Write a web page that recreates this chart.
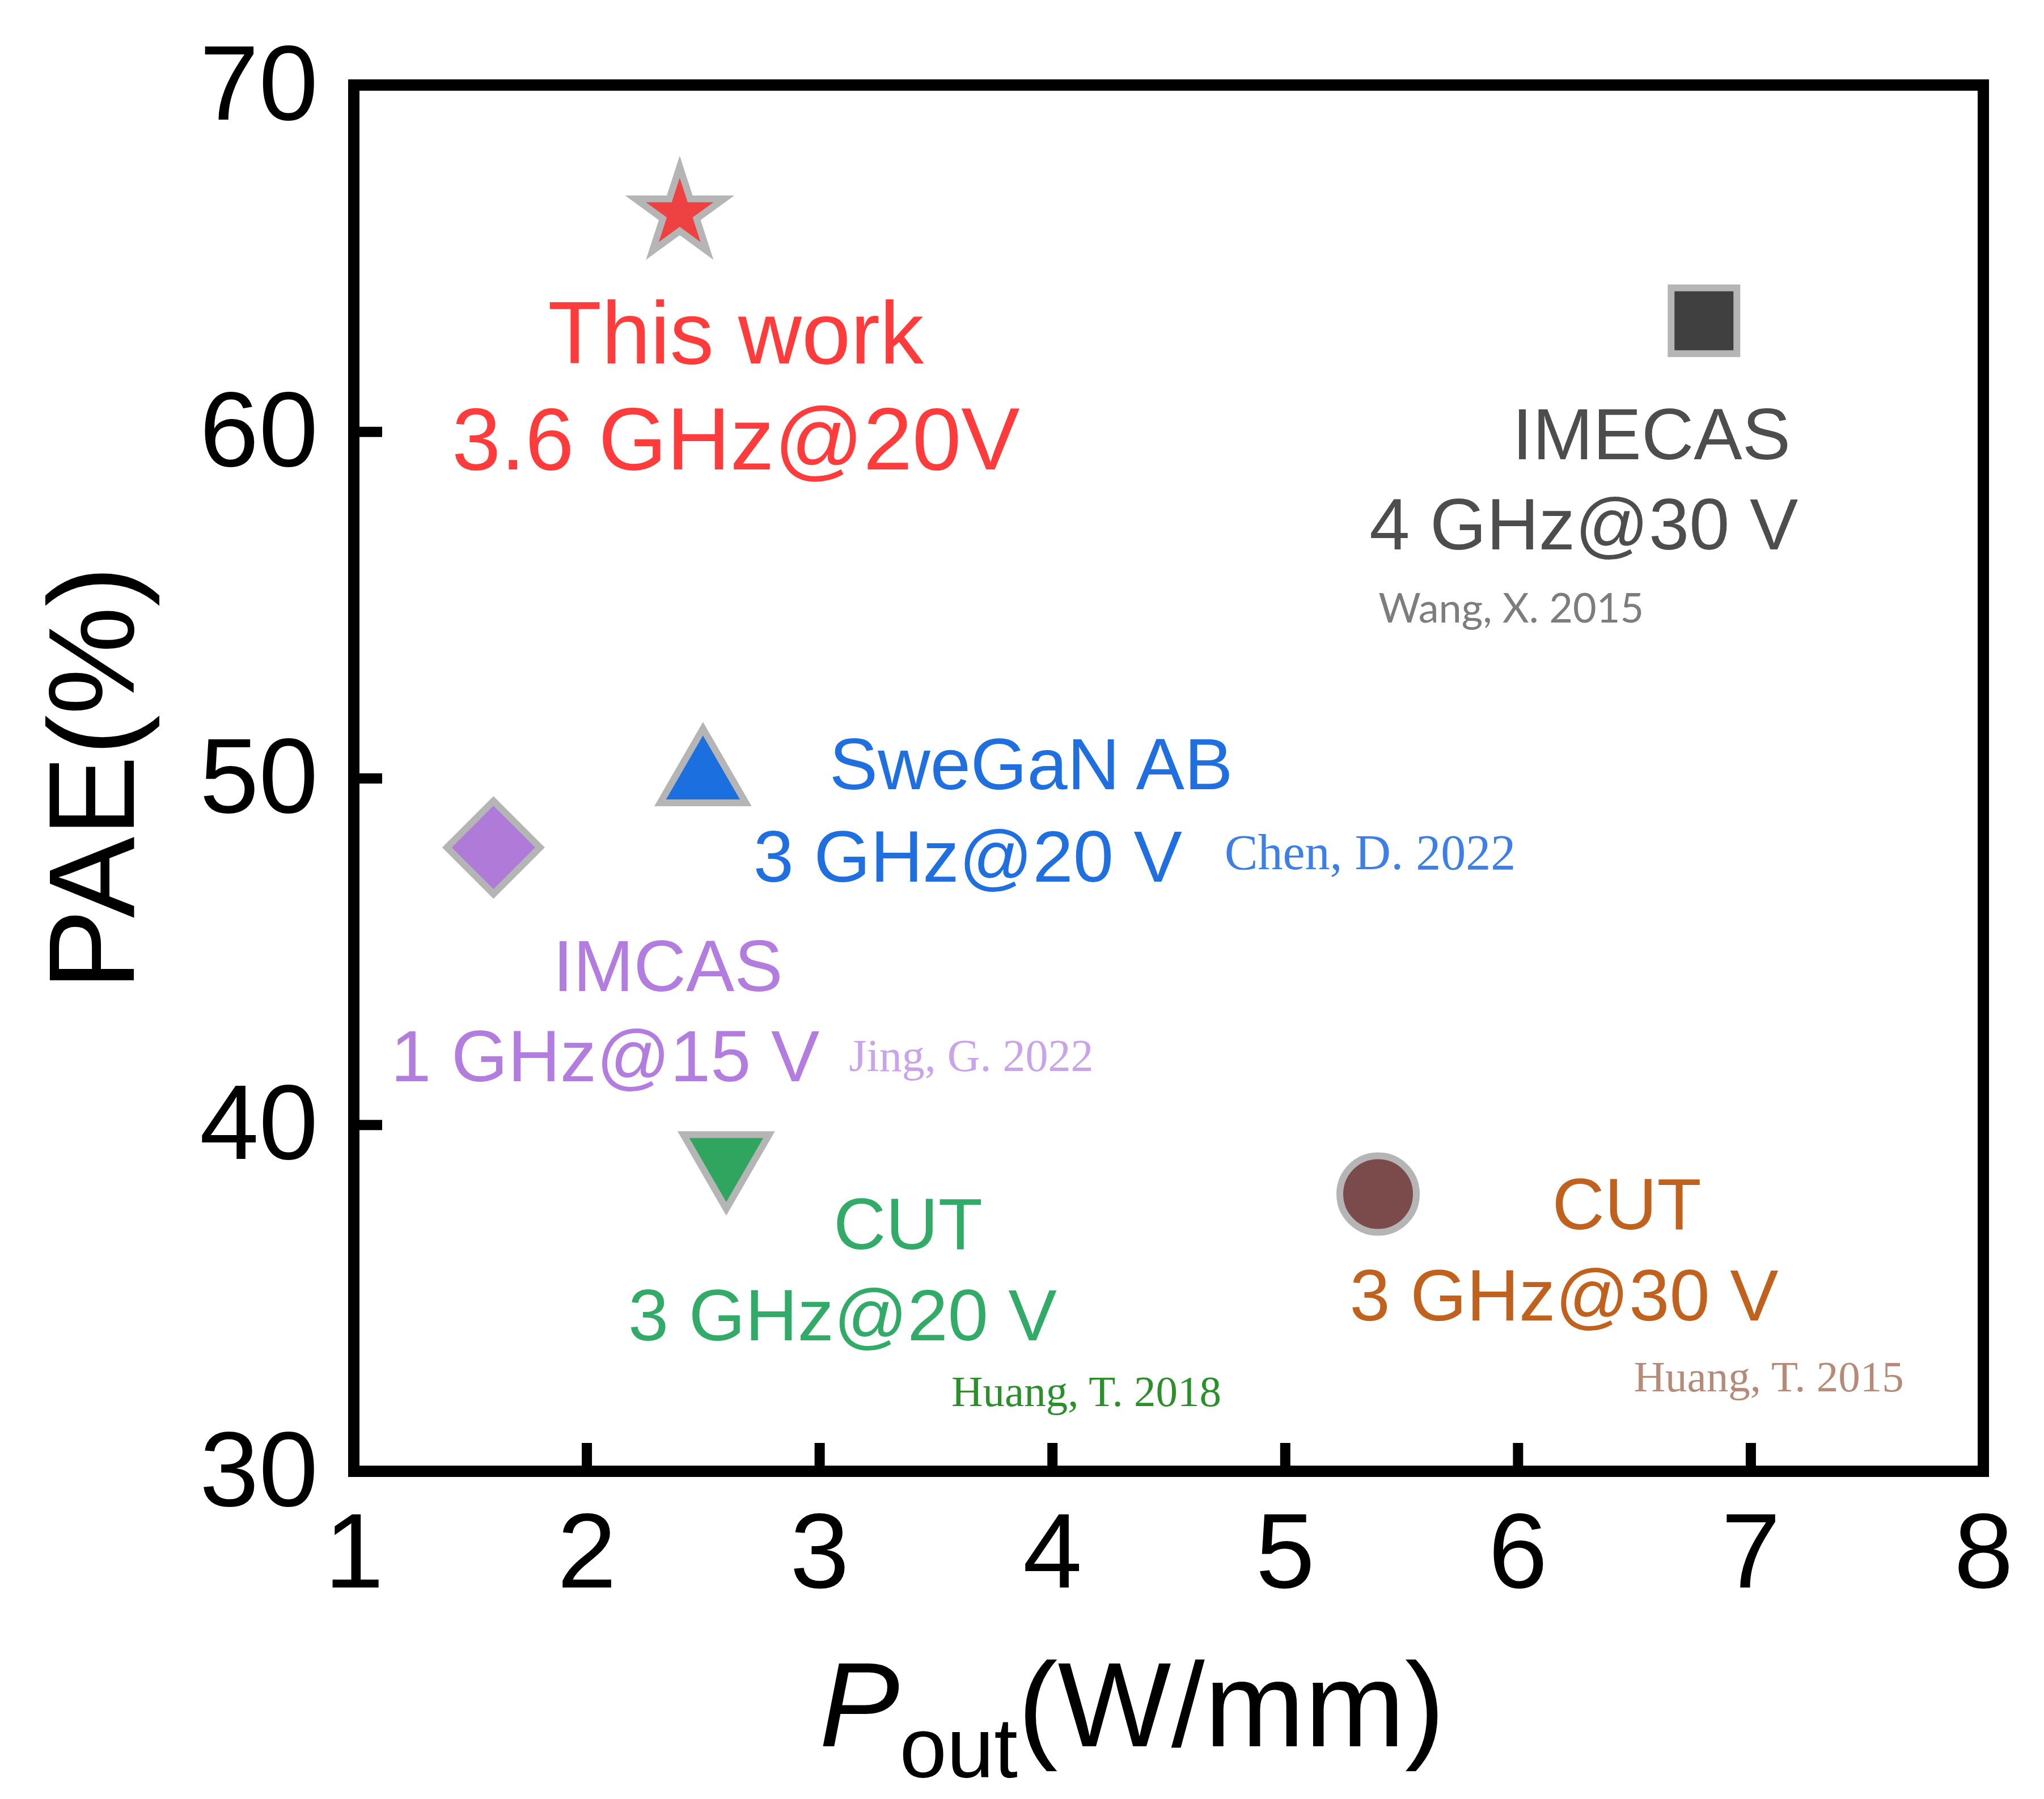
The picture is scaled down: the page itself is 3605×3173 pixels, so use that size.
<!DOCTYPE html>
<html>
<head>
<meta charset="utf-8">
<script src="https://cdn.jsdelivr.net/npm/d3@7"></script>
<style>
  body { margin: 0; background: #fff; }
  text { font-family: "Liberation Sans", Arial, sans-serif; }
</style>
</head>
<body>
<svg id="chart"></svg>
<script>
// data
var names = ["This work", "IMECAS", "SweGaN AB", "IMCAS", "CUT 2018", "CUT 2015"];
var pout = [2.4, 6.8, 2.5, 1.6, 2.6, 5.4];
var pae = [66.3, 63.2, 50, 48, 39, 38];
var xTicks = [1, 2, 3, 4, 5, 6, 7, 8];
var yTicks = [30, 40, 50, 60, 70];

var dimensions = {
  width: 3605,
  height: 3173,
  margin: { top: 150, right: 107, bottom: 578, left: 624 },
};

// marker look, one per point
var markers = [
  { type: d3.symbolStar, size: 7548, rot: 0, fill: "#ee4242" },
  { type: d3.symbolSquare, size: 13456, rot: 0, fill: "#404040" },
  { type: d3.symbolTriangle, size: 9877, rot: 0, fill: "#1c6fdf" },
  { type: d3.symbolSquare, size: 13456, rot: 45, fill: "#b07ad9" },
  { type: d3.symbolTriangle, size: 9877, rot: 180, fill: "#2fa560" },
  { type: d3.symbolCircle, size: 14314, rot: 0, fill: "#7b4b4b" },
];

// annotation text, offsets in px from the marker
var labels = [
  [
    { t: "This work", dx: 99, dy: 265, fs: 155, c: "#ff3b3b", anchor: "middle" },
    { t: "3.6 GHz@20V", dx: 99, dy: 452, fs: 155, c: "#ff3b3b", anchor: "middle" },
  ],
  [
    { t: "IMECAS", dx: -338, dy: 244, fs: 128, c: "#4d4d4d" },
    { t: "4 GHz@30 V", dx: -590, dy: 403, fs: 128, c: "#4d4d4d" },
    { t: "Wang, X. 2015", dx: -574, dy: 532, fs: 72, c: "#7d7d7d", font: "Lato, sans-serif" },
  ],
  [
    { t: "SweGaN AB", dx: 223, dy: 19, fs: 128, c: "#1f6fe0" },
    { t: "3 GHz@20 V", dx: 89, dy: 182, fs: 128, c: "#1f6fe0" },
    { t: "Chen, D. 2022", dx: 920, dy: 160, fs: 88, c: "#3d7fe6", font: "'Liberation Serif', serif" },
  ],
  [
    { t: "IMCAS", dx: 105, dy: 253, fs: 128, c: "#b37de0" },
    { t: "1 GHz@15 V", dx: -181, dy: 412, fs: 128, c: "#b37de0" },
    { t: "Jing, G. 2022", dx: 627, dy: 394, fs: 80, c: "#c9a4ea", font: "'Liberation Serif', serif" },
  ],
  [
    { t: "CUT", dx: 189, dy: 158, fs: 128, c: "#33ab68" },
    { t: "3 GHz@20 V", dx: -173, dy: 319, fs: 128, c: "#33ab68" },
    { t: "Huang, T. 2018", dx: 397, dy: 435, fs: 77, c: "#2b8f2b", font: "'Liberation Serif', serif" },
  ],
  [
    { t: "CUT", dx: 307, dy: 62, fs: 128, c: "#c0621e" },
    { t: "3 GHz@30 V", dx: -50, dy: 223, fs: 128, c: "#c0621e" },
    { t: "Huang, T. 2015", dx: 451, dy: 348, fs: 77, c: "#b68a78", font: "'Liberation Serif', serif" },
  ],
];

var svg = d3
  .select("#chart")
  .attr("width", dimensions.width)
  .attr("height", dimensions.height);

var xScale = d3
  .scaleLinear()
  .domain([1, 8])
  .range([dimensions.margin.left, dimensions.width - dimensions.margin.right]);

var yScale = d3
  .scaleLinear()
  .domain([30, 70])
  .range([dimensions.height - dimensions.margin.bottom, dimensions.margin.top]);

var xAxisgen = d3
  .axisBottom(xScale)
  .tickValues(xTicks)
  .tickFormat(d3.format("d"))
  .tickSize(-50)
  .tickPadding(72);
var yAxisgen = d3
  .axisLeft(yScale)
  .tickValues(yTicks)
  .tickFormat(d3.format("d"))
  .tickSize(-50)
  .tickPadding(63);

var xAxis = svg
  .append("g")
  .attr("transform", `translate(0,${yScale(30)})`)
  .call(xAxisgen);
var yAxis = svg
  .append("g")
  .attr("transform", `translate(${xScale(1)},0)`)
  .call(yAxisgen);

[xAxis, yAxis].forEach(function (ax) {
  ax.select(".domain").remove();
  ax.selectAll(".tick line").attr("stroke", "#000").attr("stroke-width", 18);
  ax.selectAll(".tick text")
    .attr("fill", "#000")
    .style("font-size", "188px")
    .style("font-family", "'Liberation Sans', Arial, sans-serif");
});

// frame
svg
  .append("rect")
  .attr("x", xScale(1))
  .attr("y", yScale(70))
  .attr("width", xScale(8) - xScale(1))
  .attr("height", yScale(30) - yScale(70))
  .attr("fill", "none")
  .attr("stroke", "#000")
  .attr("stroke-width", 20);

// points
var points = names.map((n, i) => ({ name: n, x: pout[i], y: pae[i], m: markers[i], l: labels[i] }));

svg
  .selectAll("path.pt")
  .data(points)
  .enter()
  .append("path")
  .attr("class", "pt")
  .attr("d", (d) => d3.symbol().type(d.m.type).size(d.m.size)())
  .attr("transform", (d) => `translate(${xScale(d.x)},${yScale(d.y)}) rotate(${d.m.rot})`)
  .attr("fill", (d) => d.m.fill)
  .attr("stroke", "#b5b5b5")
  .attr("stroke-width", 12)
  .attr("stroke-linejoin", "miter");

points.forEach(function (d) {
  var px = xScale(d.x);
  var py = yScale(d.y);
  d.l.forEach(function (l) {
    svg
      .append("text")
      .attr("x", px + l.dx)
      .attr("y", py + l.dy)
      .attr("text-anchor", l.anchor || "start")
      .attr("fill", l.c)
      .style("font-size", l.fs + "px")
      .style("font-family", l.font || "'Liberation Sans', Arial, sans-serif")
      .text(l.t);
  });
});

// axis titles
svg
  .append("text")
  .attr("transform", `translate(236,${(yScale(30) + yScale(70)) / 2}) rotate(-90)`)
  .attr("text-anchor", "middle")
  .style("font-size", "215px")
  .text("PAE(%)");

var xt = svg
  .append("text")
  .attr("x", 1445)
  .attr("y", 3080)
  .style("font-size", "212px");
xt.append("tspan").style("font-style", "italic").text("P");
xt.append("tspan").attr("dy", 55).style("font-size", "150px").text("out");
xt.append("tspan").attr("dy", -55).text("(W/mm)");
</script>
</body>
</html>
